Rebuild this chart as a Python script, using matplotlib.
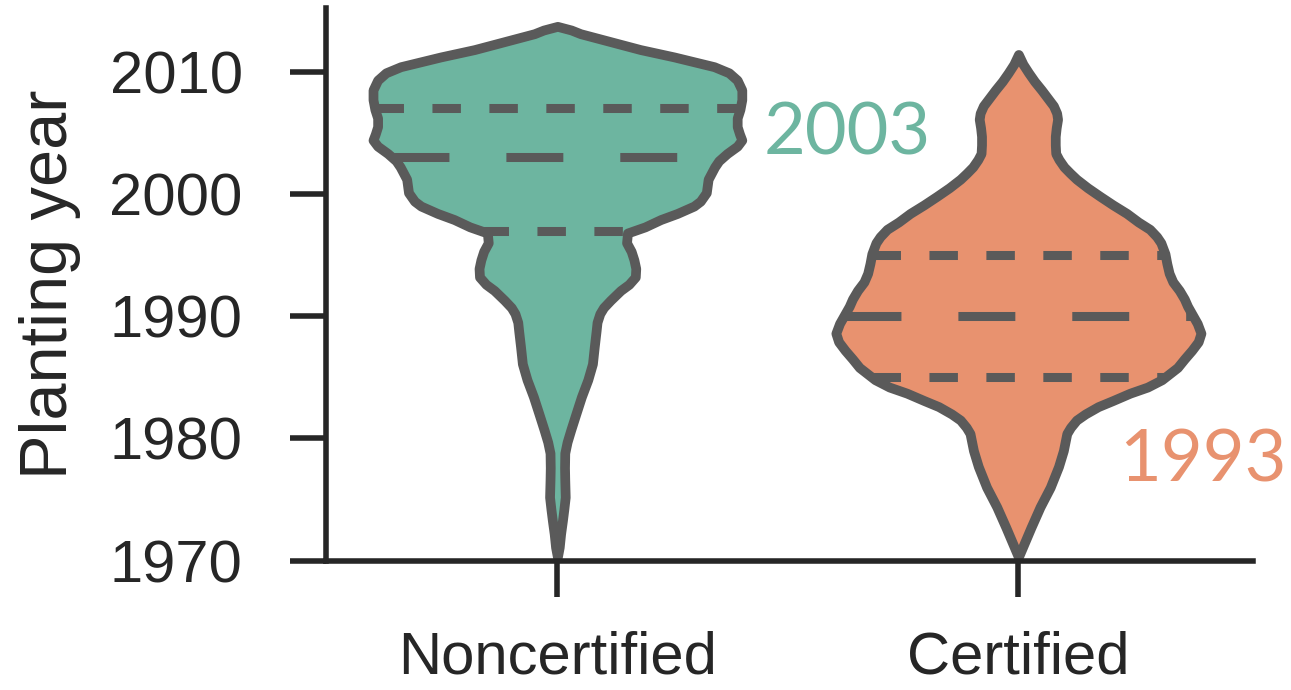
import numpy as np
import matplotlib
matplotlib.use('Agg')
import matplotlib.pyplot as plt

# groups and their colours
groups = ['Noncertified', 'Certified']
colors = ['#6db5a0', '#e8926f']

# violin outline: year -> half width (x units)
noncert_year = [2013.7, 2013.4, 2013.1, 2012.5, 2011.8, 2011.2, 2010.4, 2009.9, 2009.3, 2008.5,
                2007.7, 2006.9, 2006.2, 2005.5, 2004.9, 2004.4, 2003.9, 2003.3, 2002.7, 2002.2,
                2001.2, 2000.1, 1999.4, 1999.0, 1998.4, 1997.9, 1997.3, 1996.8, 1996.0, 1995.3,
                1994.6, 1993.9, 1993.2, 1992.6, 1992.1, 1991.3, 1990.7, 1990.2, 1989.5, 1988.8,
                1987.5, 1986.1, 1984.8, 1983.4, 1982.0, 1980.7, 1979.7, 1978.8, 1977.6, 1976.6,
                1975.2, 1974.2, 1973.3, 1972.2, 1971.1, 1970.3]
noncert_width = [0.0, 0.03, 0.05, 0.11, 0.18, 0.253, 0.34, 0.372, 0.39, 0.40,
                 0.40, 0.396, 0.39, 0.39, 0.395, 0.40, 0.39, 0.368, 0.35, 0.341,
                 0.327, 0.323, 0.31, 0.296, 0.26, 0.224, 0.19, 0.152, 0.150, 0.16,
                 0.166, 0.17, 0.169, 0.155, 0.137, 0.115, 0.10, 0.092, 0.086, 0.084,
                 0.080, 0.076, 0.066, 0.052, 0.040, 0.029, 0.021, 0.016, 0.0155, 0.016,
                 0.017, 0.014, 0.011, 0.007, 0.004, 0.0]

cert_year = [2011.4, 2010.6, 2009.9, 2009.2, 2008.5, 2007.8, 2007.2, 2006.6, 2006.1, 2005.4,
             2004.7, 2004.0, 2003.3, 2002.8, 2002.2, 2001.7, 2001.2, 2000.5, 1999.8, 1999.1,
             1998.4, 1997.7, 1997.1, 1996.5, 1996.0, 1995.1, 1994.3, 1993.5, 1992.8, 1992.1,
             1991.4, 1990.8, 1990.2, 1989.4, 1988.6, 1987.9, 1987.2, 1986.5, 1985.8, 1984.8,
             1984.2, 1983.7, 1983.1, 1982.6, 1982.0, 1981.5, 1980.9, 1980.4, 1979.0, 1977.7,
             1976.0, 1974.4, 1972.7, 1971.1, 1970.3]
cert_width = [0.0, 0.01, 0.022, 0.035, 0.05, 0.064, 0.076, 0.083, 0.085, 0.082,
              0.080, 0.080, 0.081, 0.088, 0.099, 0.112, 0.126, 0.15, 0.177, 0.205,
              0.235, 0.26, 0.285, 0.30, 0.309, 0.318, 0.322, 0.327, 0.335, 0.349,
              0.36, 0.367, 0.376, 0.388, 0.396, 0.39, 0.376, 0.36, 0.345, 0.311,
              0.28, 0.242, 0.205, 0.173, 0.145, 0.126, 0.113, 0.105, 0.0975, 0.087,
              0.069, 0.047, 0.027, 0.009, 0.0]

# quartiles (q1, median, q3)
quartiles = [[1997, 2003, 2007], [1985, 1990, 1995]]

# annotated medians
notes = ['2003', '1993']

yticks = [1970, 1980, 1990, 2000, 2010]

plt.rcParams['lines.scale_dashes'] = False

fig = plt.figure(figsize=(12.91, 6.90), dpi=100)
ax = fig.add_axes([0.2525, 0.1874, 0.7181, 0.801])

profiles = [(noncert_year, noncert_width), (cert_year, cert_width)]
line_col = '#5a5a5a'
for i, (yy, ww) in enumerate(profiles):
    yy = np.array(yy)
    ww = np.array(ww)
    ax.fill_betweenx(yy, i - ww, i + ww, facecolor=colors[i], edgecolor=line_col,
                     linewidth=7, joinstyle='round', zorder=2)
    # inner quartile lines
    for j, q in enumerate(quartiles[i]):
        w = np.interp(q, yy[::-1], ww[::-1])
        dash = (41, 41) if j == 1 else (20.5, 20.5)
        ax.plot([i - w, i + w], [q, q], color=line_col, linewidth=6.5,
                dashes=dash, solid_capstyle='butt', dash_capstyle='butt', zorder=3)

# median annotations
ax.text(0.447, 2003.19, notes[0], color=colors[0], fontsize=52, family='Lato',
        ha='left', va='baseline')
ax.text(1.218, 1976.44, notes[1], color=colors[1], fontsize=52, family='Lato',
        ha='left', va='baseline')

ax.set_xlim(-0.502, 1.509)
ax.set_ylim(1970, 2015.2)
ax.set_xticks([0, 1])
ax.set_xticklabels(groups)
ax.set_yticks(yticks)
ax.set_ylabel('Planting year', fontsize=48, family='Liberation Sans', labelpad=20)

for s in ['top', 'right']:
    ax.spines[s].set_visible(False)
for s in ['left', 'bottom']:
    ax.spines[s].set_linewidth(4)
    ax.spines[s].set_color('#262626')
    ax.spines[s].set_zorder(4)
ax.tick_params(axis='both', length=26, width=4, color='#262626', labelcolor='#262626',
               labelsize=43)
ax.tick_params(axis='y', pad=34)
ax.tick_params(axis='x', pad=24)
for lab in ax.get_xticklabels() + ax.get_yticklabels():
    lab.set_family('Liberation Sans')
ax.yaxis.label.set_color('#262626')

fig.savefig('out.png', dpi=100)
